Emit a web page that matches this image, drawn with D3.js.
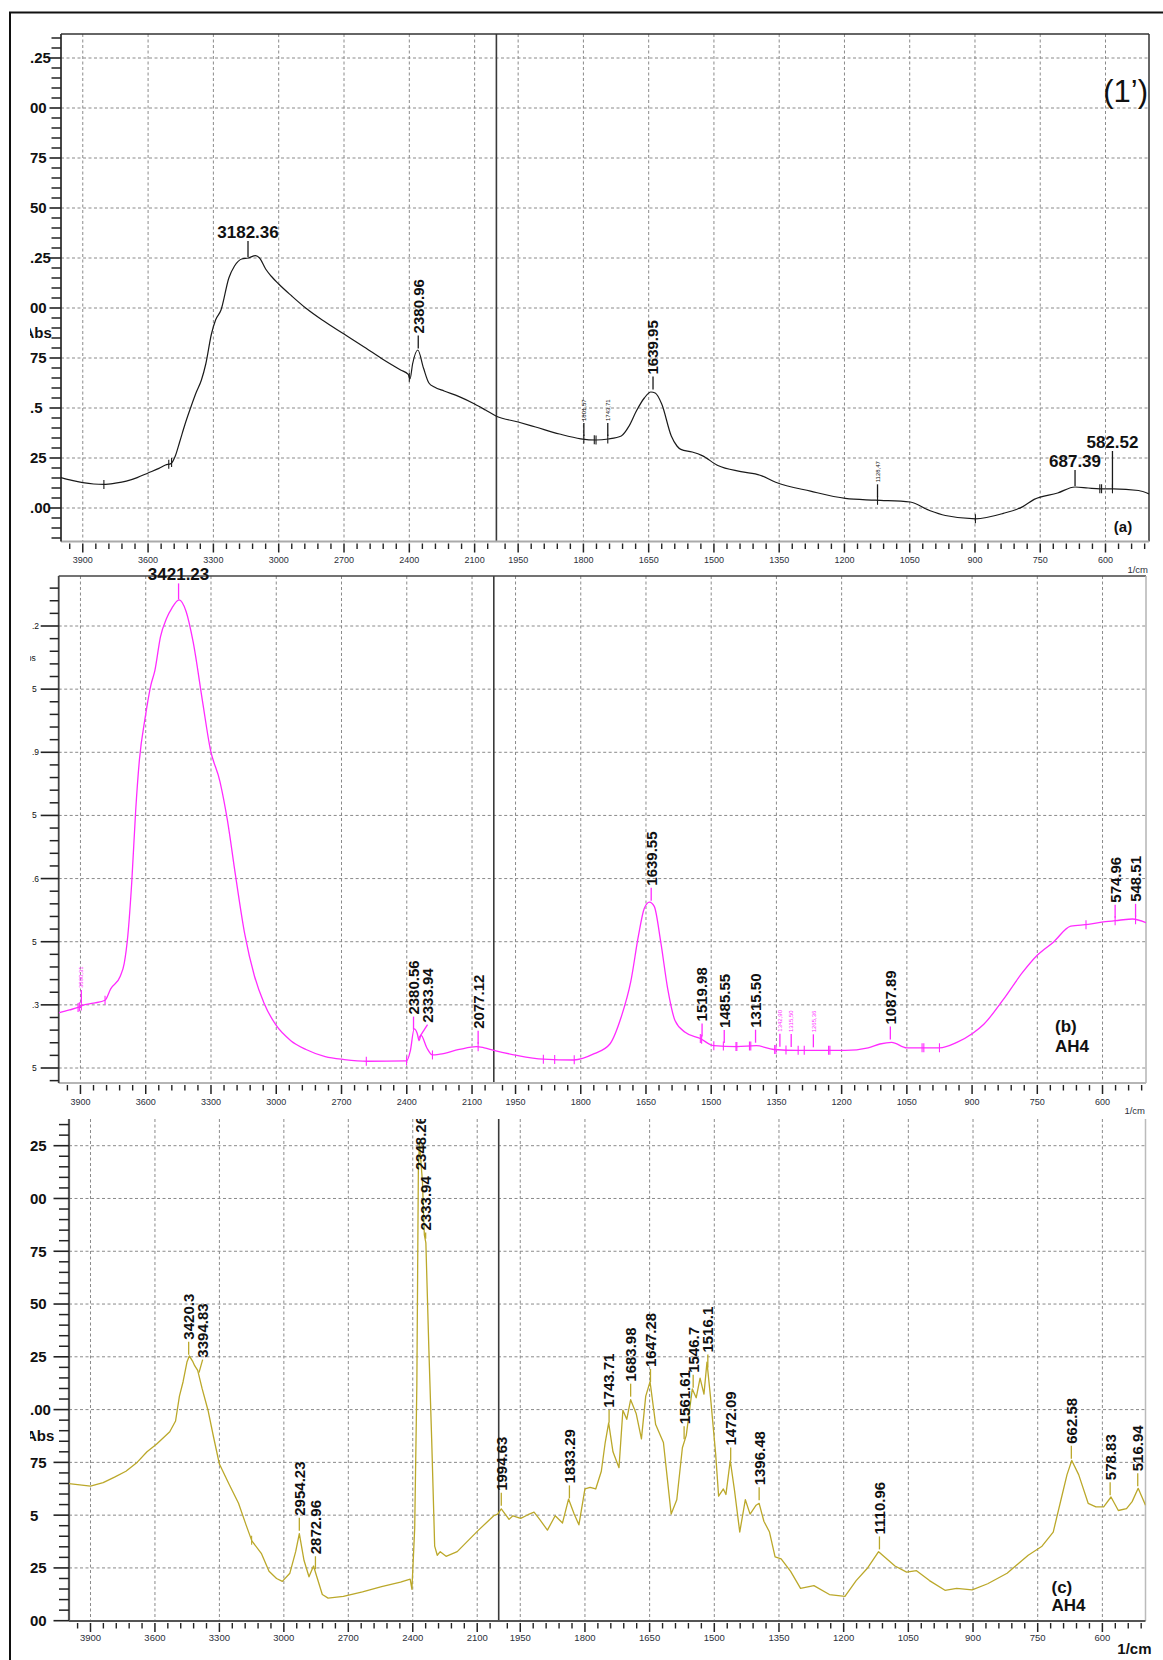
<!DOCTYPE html>
<html><head><meta charset="utf-8">
<script src="https://cdn.jsdelivr.net/npm/d3@7"></script>
<style>html,body{margin:0;padding:0;background:#fff;} svg{display:block;}</style>
</head><body>
<svg id="chart" width="1163" height="1660"></svg>
<script>
// ---------------- DATA ----------------
// x-axis tick labels (wavenumber, 1/cm)
const xMajorHigh = [3900, 3600, 3300, 3000, 2700, 2400, 2100];
const xMajorLow = [1950, 1800, 1650, 1500, 1350, 1200, 1050, 900, 750, 600];

// y-axis ticks and (cropped) tick labels as they appear
const yTicksA = [0, 0.25, 0.5, 0.75, 1, 1.25, 1.5, 1.75, 2, 2.25];
const yLabelsA = [".00", "25", ".5", "75", "00", ".25", "50", "75", "00", ".25"];
const yTicksB = [0.15, 0.3, 0.45, 0.6, 0.75, 0.9, 1.05, 1.2];
const yLabelsB = ["5", ".3", "5", ".6", "5", ".9", "5", ".2"];
const yTicksC = [0, 0.25, 0.5, 0.75, 1, 1.25, 1.5, 1.75, 2, 2.25];
const yLabelsC = ["00", "25", "5", "75", ".00", "25", "50", "75", "00", "25"];

// spectrum (a): [wavenumber, absorbance]
const spectrumA = [
 [4000,0.152],[3950,0.138],[3900,0.127],[3850,0.12],[3803,0.118],[3750,0.124],[3700,0.134],[3650,0.152],
 [3600,0.175],[3550,0.198],[3520,0.215],[3495,0.222],[3475,0.26],[3455,0.33],[3430,0.42],[3405,0.50],
 [3380,0.575],[3355,0.64],[3335,0.72],[3309,0.87],[3290,0.94],[3265,0.99],[3229,1.15],[3203,1.21],
 [3170,1.245],[3140,1.25],[3106,1.262],[3088,1.25],[3060,1.195],[3035,1.16],[3000,1.12],[2940,1.06],
 [2876,1.0],[2800,0.94],[2700,0.87],[2600,0.8],[2524,0.745],[2440,0.69],[2405,0.668],[2397,0.645],
 [2385,0.72],[2361,0.79],[2335,0.70],[2310,0.625],[2285,0.605],[2240,0.585],[2171,0.557],[2100,0.52],
 [2050,0.49],[2000,0.459],[1950,0.43],[1910,0.405],[1855,0.37],[1806,0.346],[1771,0.34],[1743,0.345],
 [1713,0.36],[1695,0.41],[1678,0.486],[1660,0.55],[1645,0.58],[1635,0.575],[1620,0.52],[1598,0.36],
 [1585,0.31],[1576,0.293],[1550,0.28],[1527,0.262],[1491,0.2125],[1438,0.182],[1394,0.164],[1358,0.129],
 [1278,0.084],[1198,0.048],[1129,0.039],[1049,0.030],[1003,-0.014],[968,-0.0375],[899,-0.054],[835,-0.027],
 [790,0.007],[764,0.043],[710,0.075],[670,0.105],[640,0.1],[613,0.096],[582,0.096],[524,0.0875],[500,0.07]
];

// spectrum (b)
const spectrumB = [
 [4000,0.281],[3950,0.288],[3911,0.294],[3893,0.298],[3840,0.304],[3787,0.311],[3761,0.338],[3717,0.368],
 [3699,0.398],[3682,0.466],[3664,0.593],[3646,0.763],[3629,0.882],[3602,0.984],[3576,1.06],[3558,1.094],
 [3532,1.175],[3505,1.217],[3479,1.243],[3447,1.262],[3414,1.234],[3382,1.162],[3338,1.018],[3303,0.907],
 [3259,0.831],[3224,0.737],[3188,0.61],[3144,0.466],[3100,0.368],[3056,0.304],[3004,0.254],[2933,0.215],
 [2863,0.194],[2775,0.177],[2687,0.17],[2581,0.166],[2401,0.167],[2384,0.19],[2366,0.243],[2352,0.232],
 [2343,0.215],[2335,0.228],[2308,0.198],[2282,0.181],[2247,0.183],[2159,0.194],[2080,0.201],[2044,0.198],
 [2000,0.192],[1947,0.18],[1886,0.171],[1816,0.169],[1769,0.184],[1733,0.207],[1707,0.271],[1685,0.355],
 [1667,0.466],[1654,0.529],[1642,0.544],[1631,0.534],[1616,0.449],[1600,0.338],[1583,0.262],[1560,0.235],
 [1525,0.22],[1494,0.203],[1441,0.201],[1396,0.203],[1356,0.194],[1299,0.192],[1228,0.192],[1192,0.192],
 [1139,0.198],[1112,0.207],[1085,0.211],[1050,0.198],[1014,0.198],[975,0.198],[935,0.211],[899,0.232],
 [873,0.254],[828,0.313],[784,0.377],[749,0.419],[713,0.449],[673,0.487],[633,0.491],[598,0.497],
 [562,0.501],[531,0.504],[500,0.495]
];

// spectrum (c)
const spectrumC = [
 [4000,0.649],[3900,0.637],[3841,0.654],[3788,0.68],[3735,0.708],[3682,0.751],[3637,0.80],[3593,0.836],
 [3531,0.895],[3504,0.946],[3486,1.064],[3469,1.132],[3451,1.225],[3440,1.254],[3425,1.23],[3415,1.208],
 [3401,1.186],[3380,1.098],[3353,0.997],[3327,0.869],[3300,0.742],[3256,0.649],[3211,0.556],[3176,0.454],
 [3149,0.378],[3105,0.319],[3069,0.234],[3034,0.2],[3007,0.186],[2972,0.225],[2945,0.327],[2928,0.412],
 [2906,0.285],[2883,0.208],[2862,0.259],[2844,0.2],[2821,0.124],[2794,0.107],[2723,0.115],[2634,0.136],
 [2545,0.161],[2457,0.183],[2412,0.197],[2404,0.149],[2391,0.437],[2381,1.115],[2374,2.13],[2369,2.27],
 [2355,2.08],[2346,1.827],[2339,1.79],[2325,1.285],[2312,0.861],[2298,0.353],[2286,0.31],[2272,0.327],
 [2245,0.305],[2193,0.327],[2094,0.429],[2023,0.497],[2005,0.505],[1994,0.53],[1976,0.48],[1967,0.497],
 [1949,0.485],[1932,0.502],[1918,0.514],[1905,0.48],[1887,0.429],[1869,0.497],[1852,0.463],[1838,0.576],
 [1825,0.505],[1814,0.454],[1800,0.624],[1788,0.632],[1775,0.624],[1762,0.708],[1753,0.844],[1745,0.937],
 [1735,0.80],[1721,0.725],[1712,0.997],[1703,0.954],[1694,1.047],[1681,0.98],[1669,0.861],[1659,1.064],
 [1649,1.132],[1636,0.929],[1618,0.844],[1600,0.505],[1587,0.573],[1574,0.819],[1565,0.878],[1551,1.098],
 [1542,1.056],[1533,1.149],[1524,1.073],[1517,1.225],[1509,1.064],[1497,0.793],[1490,0.59],[1479,0.624],
 [1473,0.598],[1463,0.759],[1453,0.615],[1441,0.42],[1428,0.573],[1417,0.505],[1403,0.547],[1396,0.556],
 [1385,0.471],[1372,0.42],[1359,0.302],[1345,0.293],[1323,0.234],[1300,0.153],[1269,0.166],[1233,0.124],
 [1197,0.115],[1171,0.19],[1144,0.251],[1119,0.327],[1081,0.259],[1054,0.23],[1031,0.237],[1001,0.19],
 [965,0.144],[938,0.153],[902,0.146],[866,0.175],[821,0.225],[772,0.31],[740,0.353],[714,0.42],
 [696,0.573],[682,0.692],[671,0.759],[655,0.692],[633,0.556],[615,0.539],[597,0.539],[580,0.586],
 [563,0.522],[544,0.531],[531,0.564],[517,0.627],[500,0.547]
];

// peak annotations: text, wavenumber where the marker sits, kind (h = horizontal, v = vertical, t = tiny)
const annotA = [
 {text:"3182.36", at:3141, kind:"h"},
 {text:"2380.96", at:2359, kind:"v"},
 {text:"1801,57", at:1799, kind:"t"},
 {text:"1743,71", at:1744, kind:"t"},
 {text:"1639.95", at:1640, kind:"v"},
 {text:"1128,47", at:1124, kind:"t"},
 {text:"687.39", at:670, kind:"h"},
 {text:"582.52", at:584, kind:"h"}
];
const annotB = [
 {text:"3421.23", at:3449, kind:"h"},
 {text:"3890,31", at:3896, kind:"t"},
 {text:"2380.56", at:2369, kind:"v"},
 {text:"2333.94", at:2343, kind:"v"},
 {text:"2077.12", at:2072, kind:"v"},
 {text:"1639.55", at:1638, kind:"v"},
 {text:"1519.98", at:1521, kind:"v"},
 {text:"1485.55", at:1470, kind:"v"},
 {text:"1315.50", at:1398, kind:"v"},
 {text:"1342,90", at:1342, kind:"t"},
 {text:"1315,50", at:1316, kind:"t"},
 {text:"1265,36", at:1265, kind:"t"},
 {text:"1087.89", at:1088, kind:"v"},
 {text:"574.96", at:571, kind:"v"},
 {text:"548.51", at:524, kind:"v"}
];
const annotC = [
 {text:"3420.3", at:3443, kind:"v"},
 {text:"3394.83", at:3395, kind:"v"},
 {text:"2954.23", at:2928, kind:"v"},
 {text:"2872.96", at:2853, kind:"v"},
 {text:"2348.26", at:2362, kind:"v"},
 {text:"2333.94", at:2340, kind:"v"},
 {text:"1994.63", at:1994, kind:"v"},
 {text:"1833.29", at:1836, kind:"v"},
 {text:"1743.71", at:1744, kind:"v"},
 {text:"1683.98", at:1694, kind:"v"},
 {text:"1647.28", at:1648, kind:"v"},
 {text:"1561.61", at:1570, kind:"v"},
 {text:"1546.7", at:1549, kind:"v"},
 {text:"1516.1", at:1515, kind:"v"},
 {text:"1472.09", at:1462, kind:"v"},
 {text:"1396.48", at:1396, kind:"v"},
 {text:"1110.96", at:1117, kind:"v"},
 {text:"662.58", at:672, kind:"v"},
 {text:"578.83", at:582, kind:"v"},
 {text:"516.94", at:518, kind:"v"}
];

// small "+" peak-pick markers on the curves (wavenumbers)
const markersA = [3803, 3505, 3492, 2400, 1799, 1775, 1771, 1744, 1124, 899, 613, 609, 584];
const markersB = [3911, 3905, 3896, 3787, 2586, 2401, 2282, 2072, 1886, 1860, 1815, 1525, 1522, 1494, 1472,
                  1443, 1441, 1412, 1409, 1354, 1351, 1328, 1300, 1286, 1230, 1227, 1015, 1011, 975, 638, 571, 524];
const markersC = [3150];

// ---------------- RENDER ----------------
const FONT = "'Liberation Sans', Arial, Helvetica, sans-serif";
const svg = d3.select("#chart").style("font-family", FONT);

svg.append("rect").attr("width", 1163).attr("height", 1660).attr("fill", "#fff");
// outer figure border
svg.append("rect").attr("x", 10).attr("y", 12.5).attr("width", 1170).attr("height", 1670)
  .attr("fill", "none").attr("stroke", "#111").attr("stroke-width", 2);

function interp(data, wn) {
  for (let i = 0; i < data.length - 1; i++) {
    const [w0, v0] = data[i], [w1, v1] = data[i + 1];
    if (wn <= w0 && wn >= w1) { const t = (w0 - wn) / (w0 - w1); return v0 + (v1 - v0) * t; }
  }
  return data[data.length - 1][1];
}

const panels = [
  { id: "a", data: spectrumA, annots: annotA, markers: markersA, yTicks: yTicksA, yLabels: yLabelsA,
    color: "#1a1a1a", tinyColor: "#111", curve: d3.curveMonotoneX, width: 1.2,
    left: 61, right: 1149, top: 34, bottom: 541.5, xBreak: 496.4,
    yDom: [0, 2.25], yPix: [508, 58], minorStep: 0.05,
    yMajLen: 11.5, yMinLen: 9.5, yLabFont: 15, yLabBold: true, yLabX: 30, absShift: 23.5,
    xLabFont: 9, xLabDy: 21.5, frameTop: true, frameDark: "#333", frameLight: "#aaa", smallUnit: true, clipAnn: false },
  { id: "b", data: spectrumB, annots: annotB, markers: markersB, yTicks: yTicksB, yLabels: yLabelsB,
    color: "#ff2bff", tinyColor: "#ff2bff", curve: d3.curveMonotoneX, width: 1.3,
    left: 58.7, right: 1146, top: 576, bottom: 1083, xBreak: 493.8,
    yDom: [0.15, 1.2], yPix: [1068, 626], minorStep: 0.03,
    yMajLen: 18, yMinLen: 9, yLabFont: 8.5, yLabBold: false, yLabX: 32, absShift: 21,
    xLabFont: 9, xLabDy: 21.5, frameTop: true, frameDark: "#444", frameLight: "#b5b5b5", smallUnit: true, clipAnn: false },
  { id: "c", data: spectrumC, annots: annotC, markers: markersC, yTicks: yTicksC, yLabels: yLabelsC,
    color: "#bba82a", tinyColor: "#111", curve: d3.curveLinear, width: 1.3,
    left: 69, right: 1145.5, top: 1119, bottom: 1621, xBreak: 498.7,
    yDom: [0, 2.25], yPix: [1620.7, 1145.7], minorStep: 0.05,
    yMajLen: 15.5, yMinLen: 10, yLabFont: 15, yLabBold: true, yLabX: 30, absShift: 26,
    xLabFont: 9.5, xLabDy: 20, frameTop: false, frameDark: "#555", frameLight: "#bbb", smallUnit: false, clipAnn: true }
];

const GRID = "#8a8a8a";
const H_TICK = 16, V_TICK = 13;

panels.forEach(p => {
  const g = svg.append("g").attr("class", "panel-" + p.id);
  const x = d3.scaleLinear().domain([4000, 2000, 500]).range([p.left, p.xBreak, p.right]);
  const y = d3.scaleLinear().domain(p.yDom).range(p.yPix);
  p.x = x; p.y = y; p.g = g;

  const clipId = "clip-" + p.id;
  svg.append("clipPath").attr("id", clipId).append("rect")
    .attr("x", p.left).attr("y", p.top).attr("width", p.right - p.left).attr("height", p.bottom - p.top);

  // grid
  const xMajors = xMajorHigh.concat(xMajorLow);
  g.selectAll(".vgrid").data(xMajors).join("line")
    .attr("x1", d => x(d)).attr("x2", d => x(d)).attr("y1", p.top).attr("y2", p.bottom)
    .attr("stroke", GRID).attr("stroke-width", 1).attr("stroke-dasharray", "3,2.5");
  g.selectAll(".hgrid").data(p.yTicks).join("line")
    .attr("x1", p.left).attr("x2", p.right).attr("y1", d => y(d)).attr("y2", d => y(d))
    .attr("stroke", GRID).attr("stroke-width", 1).attr("stroke-dasharray", "3,2.5");

  // 2000 cm-1 scale break line
  g.append("line").attr("x1", x(2000)).attr("x2", x(2000)).attr("y1", p.top).attr("y2", p.bottom)
    .attr("stroke", "#3a3a3a").attr("stroke-width", 1.6);

  // frame
  if (p.frameTop) g.append("line").attr("x1", p.left).attr("x2", p.right).attr("y1", p.top).attr("y2", p.top)
    .attr("stroke", p.frameDark).attr("stroke-width", 1.6);
  g.append("line").attr("x1", p.right).attr("x2", p.right).attr("y1", p.top).attr("y2", p.bottom)
    .attr("stroke", p.id === "a" ? p.frameDark : p.frameLight).attr("stroke-width", 1.5);
  g.append("line").attr("x1", p.left).attr("x2", p.right).attr("y1", p.bottom).attr("y2", p.bottom)
    .attr("stroke", p.id === "c" ? p.frameDark : p.frameLight).attr("stroke-width", 2);
  g.append("line").attr("x1", p.left).attr("x2", p.left).attr("y1", p.top).attr("y2", p.bottom)
    .attr("stroke", p.frameDark).attr("stroke-width", p.id === "c" ? 2.2 : 1.8);

  // y ticks
  const vb = y.invert(p.bottom), vt = y.invert(p.top);
  const minors = d3.range(Math.ceil(vb / p.minorStep - 1e-6), Math.floor(vt / p.minorStep + 1e-6) + 1)
    .map(i => +(i * p.minorStep).toFixed(4))
    .filter(v => !p.yTicks.some(t => Math.abs(t - v) < 1e-6));
  g.selectAll(".yminor").data(minors).join("line")
    .attr("x1", p.left - p.yMinLen).attr("x2", p.left).attr("y1", d => y(d)).attr("y2", d => y(d))
    .attr("stroke", "#222").attr("stroke-width", 1.5);
  g.selectAll(".ymajor").data(p.yTicks).join("line")
    .attr("x1", p.left - p.yMajLen).attr("x2", p.left).attr("y1", d => y(d)).attr("y2", d => y(d))
    .attr("stroke", "#222").attr("stroke-width", 1.6);

  // y labels (cropped at the left of the figure)
  const labClip = "labclip-" + p.id;
  svg.append("clipPath").attr("id", labClip).append("rect")
    .attr("x", 30).attr("y", p.top - 20).attr("width", p.left - 30).attr("height", p.bottom - p.top + 40);
  const yl = g.append("g").attr("clip-path", `url(#${labClip})`);
  yl.selectAll("text.ylab").data(p.yTicks).join("text")
    .attr("x", p.yLabX).attr("y", d => y(d)).attr("dy", "0.36em")
    .attr("font-size", p.yLabFont).attr("font-weight", p.yLabBold ? "bold" : "normal")
    .attr("fill", "#111").text((d, i) => p.yLabels[i]);
  const absVal = (p.yTicks[p.id === "b" ? 6 : 3] + p.yTicks[p.id === "b" ? 7 : 4]) / 2;
  yl.append("text").attr("x", p.absShift).attr("y", y(absVal)).attr("dy", "0.36em")
    .attr("font-size", p.yLabFont).attr("font-weight", p.yLabBold ? "bold" : "normal")
    .attr("fill", "#111").text("Abs");

  // x ticks
  const xMinors = d3.range(2040, 3961, 60).concat(d3.range(510, 1981, 30))
    .filter(v => !xMajors.includes(v));
  g.selectAll(".xminor").data(xMinors).join("line")
    .attr("x1", d => x(d)).attr("x2", d => x(d)).attr("y1", p.bottom + 2).attr("y2", p.bottom + 7.5)
    .attr("stroke", "#222").attr("stroke-width", 1.4);
  g.selectAll(".xmajor").data(xMajors).join("line")
    .attr("x1", d => x(d)).attr("x2", d => x(d)).attr("y1", p.bottom + 2).attr("y2", p.bottom + 11)
    .attr("stroke", "#222").attr("stroke-width", 1.5);
  g.selectAll(".xlab").data(xMajors).join("text")
    .attr("x", d => x(d)).attr("y", p.bottom + p.xLabDy).attr("text-anchor", "middle")
    .attr("font-size", p.xLabFont).attr("fill", "#2b2f3a").text(d => d);
  if (p.smallUnit) {
    g.append("text").attr("x", p.right - 1).attr("y", p.bottom + 31).attr("text-anchor", "end")
      .attr("font-size", 9.5).attr("fill", "#2b2f3a").text("1/cm");
  }

  // curve
  const line = d3.line().x(d => x(d[0])).y(d => y(d[1])).curve(p.curve);
  g.append("path").datum(p.data).attr("d", line).attr("fill", "none")
    .attr("stroke", p.color).attr("stroke-width", p.width).attr("stroke-linejoin", "round")
    .attr("clip-path", `url(#${clipId})`);

  // + markers
  g.selectAll(".mk").data(p.markers).join("line")
    .attr("x1", d => x(d)).attr("x2", d => x(d))
    .attr("y1", d => y(interp(p.data, d)) - 4.5).attr("y2", d => y(interp(p.data, d)) + 4.5)
    .attr("stroke", p.color).attr("stroke-width", 1.1);

  drawAnnots(p);
});

function drawAnnots(p) {
  const g = p.g.append("g");
  if (p.clipAnn) {
    const cid = "annclip-" + p.id;
    svg.append("clipPath").attr("id", cid).append("rect")
      .attr("x", 0).attr("y", p.top).attr("width", 1163).attr("height", p.bottom - p.top);
    g.attr("clip-path", `url(#${cid})`);
  }
  const items = p.annots.map(a => {
    const ax = p.x(a.at), cy = p.y(interp(p.data, a.at));
    const it = { a, ax, cy, lx: ax };
    if (a.kind === "h") {
      it.el = g.append("text").attr("font-size", 17).attr("font-weight", "bold")
        .attr("text-anchor", "middle").attr("fill", "#111").text(a.text);
      it.len = it.el.node().getComputedTextLength();
      it.base = cy - 2 - H_TICK - 2;
    } else {
      const tiny = a.kind === "t";
      it.el = g.append("text").attr("font-size", tiny ? 6 : 15).attr("font-weight", tiny ? "normal" : "bold")
        .attr("fill", tiny ? p.tinyColor : "#111").text(a.text);
      it.len = it.el.node().getComputedTextLength();
      it.bottom = cy - 3 - V_TICK - 2;
      it.topY = it.bottom - it.len;
      if (it.topY < p.top - 3) { it.topY = p.top - 3; it.bottom = it.topY + it.len; it.noTick = true; }
      it.w = tiny ? 7 : 14;
    }
    return it;
  });
  // resolve overlaps of vertical labels
  const vs = items.filter(d => d.a.kind !== "h").sort((a, b) => a.ax - b.ax);
  const placed = [];
  vs.forEach(it => {
    let moved = true, guard = 0;
    while (moved && guard++ < 20) {
      moved = false;
      for (const q of placed) {
        const gap = Math.max(it.w, q.w);
        if (Math.abs(it.lx - q.lx) >= gap - 0.01) continue;
        if (q.noTick && it.topY < q.bottom + 6 && it.bottom > q.topY) {
          // label pinned at the top: place the next one just below it
          it.topY = q.bottom + 6; it.bottom = it.topY + it.len; it.pushedDown = true; moved = true;
          continue;
        }
        const vOverlap = Math.min(it.bottom, q.bottom) - Math.max(it.topY, q.topY);
        if (vOverlap > 3) { it.lx = q.lx + gap; moved = true; }
      }
    }
    placed.push(it);
  });
  // horizontal labels: lift when overlapping
  const hs = items.filter(d => d.a.kind === "h").sort((a, b) => a.ax - b.ax);
  const ph = [];
  hs.forEach(it => {
    for (const q of ph) {
      if (Math.abs(it.ax - q.ax) < (it.len + q.len) / 2 + 2 && Math.abs(it.base - q.base) < 17) it.base = q.base - 19;
    }
    ph.push(it);
  });
  const tickColor = p.color;
  items.forEach(it => {
    if (it.a.kind === "h") {
      it.el.attr("x", it.ax).attr("y", it.base);
      g.append("line").attr("x1", it.ax).attr("x2", it.ax).attr("y1", it.cy - 1).attr("y2", it.base + 3)
        .attr("stroke", tickColor).attr("stroke-width", 1.3);
    } else {
      it.el.attr("transform", `translate(${it.lx},${it.bottom}) rotate(-90)`).attr("dy", "0.36em");
      if (!it.noTick && it.bottom + 2 < it.cy - 3) {
        g.append("line").attr("x1", it.ax).attr("y1", it.cy - 3).attr("x2", it.lx).attr("y2", it.bottom + 2)
          .attr("stroke", tickColor).attr("stroke-width", 1.3);
      }
    }
  });
}

// panel tags
svg.append("text").attr("x", 1148).attr("y", 102).attr("text-anchor", "end")
  .attr("font-size", 31).attr("fill", "#111").text("(1’)");
svg.append("text").attr("x", 1113.8).attr("y", 532).attr("font-size", 15).attr("font-weight", "bold")
  .attr("fill", "#111").text("(a)");
svg.append("text").attr("x", 1055).attr("y", 1032).attr("font-size", 17).attr("font-weight", "bold")
  .attr("fill", "#111").text("(b)");
svg.append("text").attr("x", 1055).attr("y", 1052).attr("font-size", 17).attr("font-weight", "bold")
  .attr("fill", "#111").text("AH4");
svg.append("text").attr("x", 1051.5).attr("y", 1593).attr("font-size", 17).attr("font-weight", "bold")
  .attr("fill", "#111").text("(c)");
svg.append("text").attr("x", 1051.5).attr("y", 1611).attr("font-size", 17).attr("font-weight", "bold")
  .attr("fill", "#111").text("AH4");
svg.append("text").attr("x", 1151.5).attr("y", 1654).attr("text-anchor", "end").attr("font-size", 15)
  .attr("font-weight", "bold").attr("fill", "#111").text("1/cm");
</script>
</body></html>
